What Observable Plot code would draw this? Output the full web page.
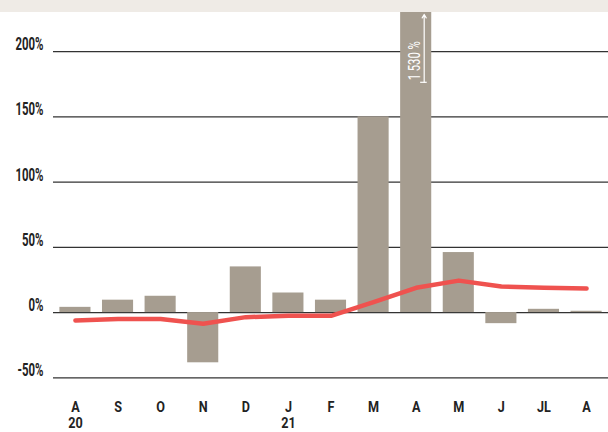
<!DOCTYPE html>
<html><head><meta charset="utf-8">
<script src="https://cdn.jsdelivr.net/npm/d3@7"></script>
<script src="https://cdn.jsdelivr.net/npm/@observablehq/plot@0.6"></script>
<style>
body{margin:0;background:#fff;}
#band{height:12px;background:#efebe6;}
</style></head><body><div id="band"></div><div id="chart"></div>
<script>
const months = ["Aug20","Sep","Oct","Nov","Dec","Jan21","Feb","Mar","Apr","May","Jun","Jul","Aug21"];
const monthLabels = ["A\n20","S","O","N","D","J\n21","F","M","A","M","J","JL","A"];
const barValues = [4, 9.5, 12.5, -38.5, 35, 15, 9.5, 150, 1530, 46, -8.5, 2.5, 1];
const lineValues = [-6, -5, -5, -8.5, -3.5, -2.5, -2.5, 8, 19, 24.5, 20, 19, 18.5];
const yTicks = [-50, 0, 50, 100, 150, 200];
const annotation = ["1 530 %"];

const data = months.map((k, i) => ({k, bar: barValues[i], line: lineValues[i]}));
const labelOf = new Map(months.map((k, i) => [k, monthLabels[i]]));
const FONT = "'Roboto', 'Liberation Sans', sans-serif";

const chart = Plot.plot({
  width: 608, height: 420,
  marginTop: 0, marginLeft: 53, marginRight: 0, marginBottom: 54.7,
  style: {fontFamily: FONT, background: "transparent", overflow: "visible"},
  x: {domain: months, paddingInner: 0.27, paddingOuter: 0.15, round: false, label: null},
  y: {domain: [-50, 230], clamp: true, label: null},
  marks: [
    Plot.ruleY(yTicks, {stroke: "#333", strokeWidth: 1.2}),
    Plot.barY(data, {x: "k", y: "bar", fill: "#a69d90"}),
    Plot.lineY(data, {x: "k", y: "line", stroke: "#ef524f", strokeWidth: 4.5, strokeLinecap: "round", strokeLinejoin: "round"}),
    Plot.axisY(yTicks, {tickSize: 0, tickPadding: 10, tickFormat: d => d + "%", fontSize: 19, fontWeight: "bold", dy: -7.5, fill: "#222", label: null}),
    Plot.axisX({tickSize: 0, tickPadding: 23, fontSize: 14, fontWeight: "bold", lineHeight: 1.15, fill: "#222", label: null, tickFormat: d => labelOf.get(d)}),
    Plot.text(annotation, {x: () => "Apr", y: () => 193, text: d => d, rotate: -90, fill: "#fff", fontSize: 17, dx: -2}),
    Plot.arrow([0], {x1: () => "Apr", x2: () => "Apr", y1: () => 176.5, y2: () => 228.5, dx: 8, stroke: "#fff", strokeWidth: 1.2, headLength: 5}),
    Plot.tickY([0], {x: () => "Apr", y: () => 176.5, insetLeft: 20, insetRight: 4.5, stroke: "#fff", strokeWidth: 1.2})
  ]
});
document.getElementById("chart").appendChild(chart);
function squeeze(sel, f) {
  sel.each(function() {
    const w = this.getComputedTextLength();
    this.setAttribute("textLength", w * f);
    this.setAttribute("lengthAdjust", "spacingAndGlyphs");
  });
}
squeeze(d3.select(chart).selectAll("g[aria-label='y-axis tick label'] text"), 0.6);
d3.select(chart).selectAll("g[aria-label='x-axis tick label'] text").each(function() {
  const ts = d3.select(this).selectAll("tspan");
  if (ts.empty()) squeeze(d3.select(this), 0.9); else squeeze(ts, 0.9);
});
d3.select(chart).selectAll("g[aria-label='text'] text").each(function() {
  this.setAttribute("textLength", 39);
  this.setAttribute("lengthAdjust", "spacingAndGlyphs");
});
</script></body></html>
